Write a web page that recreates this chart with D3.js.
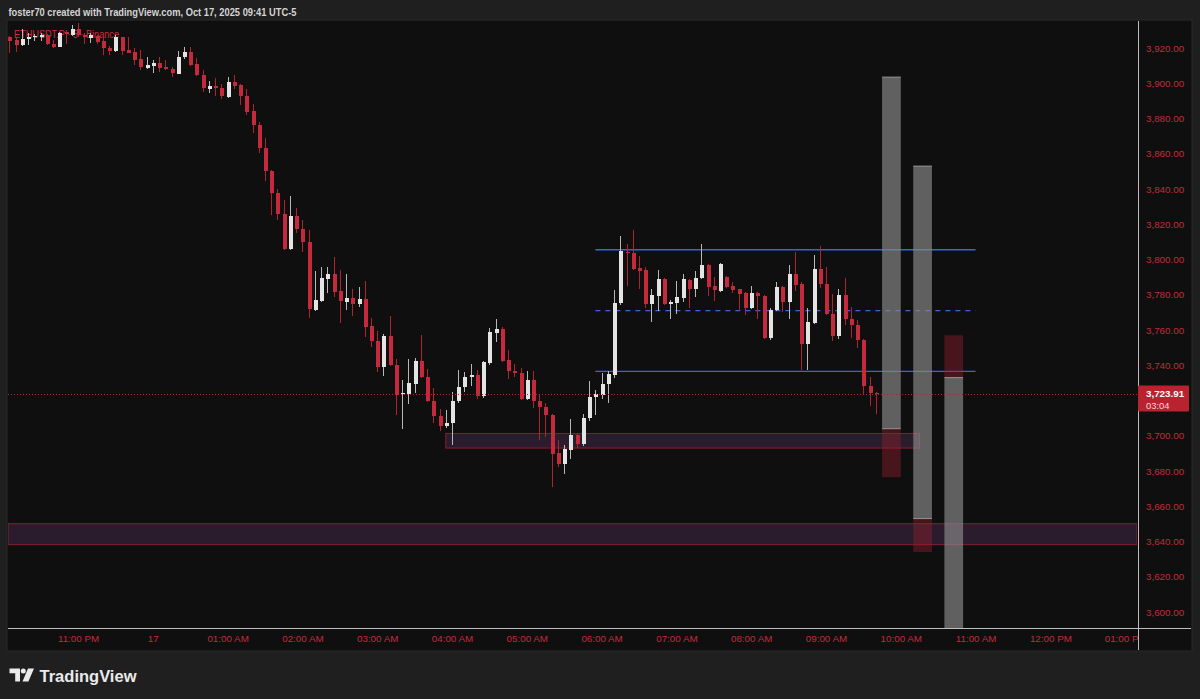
<!DOCTYPE html>
<html><head><meta charset="utf-8">
<script src="https://cdn.jsdelivr.net/npm/d3@7"></script>
<style>
html,body{margin:0;padding:0;background:#1f1f1f;overflow:hidden}
svg{display:block}
text{font-family:"Liberation Sans",Arial,sans-serif}
</style></head>
<body>
<svg id="c" width="1200" height="699"></svg>
<script>
// ---------------- DATA ----------------
const titleText = "foster70 created with TradingView.com, Oct 17, 2025 09:41 UTC-5";
const symbolText = "ETHUSDT.P \u00b7 5 \u00b7 Binance";
const firstBar = "2025-10-16T22:05:00Z";   // 5-minute bars (chart local time)
const barMinutes = 5;
const opens = [3926,3924.5,3921.5,3925,3926,3926.5,3927.5,3922.5,3920.5,3929,3927.5,3930.5,3927.5,3925.5,3927,3924,3920,3918.5,3926,3919,
3917.5,3913.5,3908.5,3910,3911.5,3909,3908,3905.5,3915,3918,3911,3904.5,3897,3898.5,3897.5,3892,3900.5,3899,3893,3884,
3876.5,3863.5,3850,3838,3826,3806,3824.5,3817.5,3810,3771.5,3776.5,3789,3792,3782,3776,3778,3774.5,3777.5,3762,3754,
3739,3756.5,3740,3723.5,3723.5,3729.5,3742.5,3733.5,3719.5,3711,3705.5,3707,3719.5,3727.5,3733.5,3734.5,3722.5,3741.5,3758.5,3760.5,
3743,3737,3735.5,3721,3731.5,3719.5,3716.5,3712,3690,3684,3692,3700.5,3695.5,3710,3722,3723,3729.5,3734.5,3775.5,3804.5,
3803.5,3795,3794,3774.5,3779.5,3789,3775,3775.5,3778,3788.5,3783.5,3789.5,3797,3785,3782,3790,3785,3783,3781,3772.5,
3781,3779.5,3755.5,3771.5,3784.5,3776,3792,3786,3752,3764,3794.5,3786,3769,3756.5,3780,3766.5,3763,3754.5,3728.5,3724.2];
const highs = [3927,3925.5,3931,3928.5,3928,3928.5,3928,3924.5,3929,3930,3933,3934,3928.5,3928.5,3927.5,3925.5,3921,3927.5,3926.5,3926,
3920,3919,3915,3913,3915,3913,3909.5,3918.5,3920.5,3920.5,3914.5,3907.5,3901.5,3903,3899.5,3903.5,3904.5,3899.5,3897,3888,
3878,3869,3851,3840,3834,3836,3829,3822.5,3817,3793.5,3795.5,3795.5,3801.5,3794,3791.5,3783.5,3784.5,3788,3767,3759.5,
3757.5,3768,3743.5,3731.5,3743.5,3744,3757,3738,3727,3715,3714.5,3725,3737.5,3736,3740.5,3737.5,3742.5,3761,3766,3761.5,
3748.5,3740.5,3738.5,3737,3736.5,3723.5,3718.5,3712.5,3697.5,3694.5,3709.5,3701.5,3712.5,3731,3726,3735.5,3736.5,3782.5,3813.5,3809,
3816.5,3802,3796,3783.5,3794,3789.5,3777,3788,3792,3789,3793.5,3809,3797.5,3790,3798,3790.5,3787.5,3783.5,3781.5,3785,
3781.5,3780,3772.5,3787.5,3785,3797,3804.5,3787,3772.5,3802.5,3807.5,3795.5,3780.5,3783,3789.5,3773,3765.5,3755,3733.5,3725];
const lows = [3917,3917.5,3921,3921.5,3924,3924,3921.5,3920,3920.5,3922.5,3927,3926.5,3922.5,3923,3922.5,3916,3916,3918,3916,3917,
3910.5,3907.5,3908,3906,3906.5,3907.5,3903.5,3905,3914,3910,3904,3895,3894.5,3892.5,3891,3891.5,3897,3887.5,3882,3871.5,
3860.5,3844.5,3825,3822.5,3805.5,3805.5,3815,3804.5,3767,3771,3776,3781,3778.5,3764,3771.5,3768,3773,3756,3750.5,3736,
3734,3739.5,3712,3704,3718,3724,3732.5,3719,3707,3702.5,3704.5,3694.5,3718.5,3725,3728,3721,3721.5,3740,3753,3742,
3732,3733.5,3720.5,3720.5,3716,3697.5,3699.5,3671,3682.5,3678.5,3687,3693,3694,3708.5,3712,3721,3718.5,3733,3774,3785,
3794,3783,3772.5,3764.5,3771,3774,3766.5,3769,3776,3772.5,3779,3789,3779.5,3776.5,3781.5,3784,3781,3770.5,3768.5,3772,
3766.5,3755,3754.5,3771,3770,3766.5,3782,3737.5,3737.5,3763.5,3784,3768.5,3753.5,3755,3763,3755.5,3750,3723.5,3717,3712.5];
const closes = [3924,3921.5,3925,3926.5,3927,3927.5,3922,3920.5,3928.5,3928,3930.5,3927.5,3926,3927.5,3923.5,3920,3918.5,3926.5,3918.5,3917,
3913,3909,3910.5,3911.5,3908.5,3908,3906,3915,3918,3910.5,3904.5,3897.5,3898.5,3897.5,3892.5,3900.5,3898.5,3893,3883.5,3876.5,
3863.5,3850,3837.5,3826,3806,3824.5,3817.5,3810,3772,3777,3789.5,3792,3781.5,3776.5,3778,3774.5,3777.5,3761.5,3754,3739,
3756.5,3740,3723,3724.5,3730,3742.5,3733.5,3719.5,3711,3705.5,3707.5,3719.5,3727.5,3733.5,3734.5,3722.5,3742,3759,3760.5,3742.5,
3736.5,3735.5,3721,3731.5,3719.5,3716.5,3712,3689.5,3684,3692.5,3700.5,3695.5,3710,3722,3723.5,3729.5,3735,3775.5,3805,3803.5,
3794.5,3793.5,3774.5,3780,3789,3774.5,3776,3778.5,3789,3783.5,3789.5,3797,3784.5,3782.5,3797.5,3784.5,3782.5,3780.5,3772.5,3781,
3779.5,3755.5,3771.5,3784.5,3776,3792,3785.5,3752,3764.5,3794.5,3786,3769,3756.5,3780,3766,3763,3754.5,3728.5,3724,3723.91];
const lastPrice = 3723.91;
const countdown = "03:04";
const priceTicks = [3600,3620,3640,3660,3680,3700,3720,3740,3760,3780,3800,3820,3840,3860,3880,3900,3920];
// horizontal range lines (price, start, end, dashed)
const rangeLines = [
  {p:3805.5, from:"2025-10-17T05:55:00Z", to:"2025-10-17T11:00:00Z", dash:false},
  {p:3771.0, from:"2025-10-17T05:55:00Z", to:"2025-10-17T11:00:00Z", dash:true},
  {p:3736.5, from:"2025-10-17T05:55:00Z", to:"2025-10-17T11:00:00Z", dash:false}];
// purple zones
const zones = [
  {top:3701.3, bottom:3693.0, from:"2025-10-17T03:55:00Z", to:"2025-10-17T10:15:00Z"},
  {top:3650.1, bottom:3638.2, from:null, to:null}];
// projection boxes: gray part and red part
const projections = [
  {from:"2025-10-17T09:45:00Z", to:"2025-10-17T10:00:00Z", grayTop:3903.5, grayBottom:3704, redTop:3704, redBottom:3676.5},
  {from:"2025-10-17T10:10:00Z", to:"2025-10-17T10:25:00Z", grayTop:3853, grayBottom:3653, redTop:3653, redBottom:3634},
  {from:"2025-10-17T10:35:00Z", to:"2025-10-17T10:50:00Z", grayTop:3733, grayBottom:3560, redTop:3757, redBottom:3733}];

// ---------------- LAYOUT ----------------
const L = 8, R = 1137, T = 21, B = 628, AXR = 1191, AXB = 650;
const RED = "#c42a3b", RED_W = "#b02431", WHITE = "#e4e4e4", WHITE_W = "#b8b8b8", AXTXT = "#c42b3c";

const svg = d3.select("#c");
svg.append("rect").attr("width",1200).attr("height",699).attr("fill","#1f1f1f");
svg.append("rect").attr("x",L-1).attr("y",T-1).attr("width",AXR-L+2).attr("height",AXB-T+2)
  .attr("fill","#0f0f0f").attr("stroke","#2b2b2b").attr("stroke-width",1);

svg.append("text").attr("x",8.5).attr("y",15.5).attr("fill","#d4d4d4")
  .attr("font-size",10.8).attr("font-weight",600).attr("textLength",288).attr("lengthAdjust","spacingAndGlyphs")
  .text(titleText);

const x = d3.scaleUtc()
  .domain([new Date("2025-10-16T22:03:50Z"), new Date("2025-10-17T13:09:30Z")])
  .range([L, R]);
const y = d3.scaleLinear().domain([3600,3920]).range([612,48]);

const defs = svg.append("defs");
defs.append("clipPath").attr("id","plotclip").append("rect")
  .attr("x",L).attr("y",T).attr("width",R-L).attr("height",B-T);
defs.append("clipPath").attr("id","timeclip").append("rect")
  .attr("x",L).attr("y",B).attr("width",R-L+1).attr("height",AXB-B);

const plot = svg.append("g").attr("clip-path","url(#plotclip)");

// symbol legend (drawn under the candles)
plot.append("text").attr("x",14).attr("y",37.5).attr("fill","#d02c3e")
  .attr("font-size",10.8).attr("textLength",105).attr("lengthAdjust","spacingAndGlyphs").text(symbolText);

const t0 = new Date(firstBar);
const bars = opens.map((o,i)=>({t:d3.utcMinute.offset(t0, i*barMinutes), o, h:highs[i], l:lows[i], c:closes[i]}));

// zones
zones.forEach(z=>{
  const x0 = z.from ? x(new Date(z.from)) : L;
  const x1 = z.to ? x(new Date(z.to)) : R;
  plot.append("rect").attr("x",x0).attr("y",y(z.top)).attr("width",x1-x0).attr("height",y(z.bottom)-y(z.top))
    .attr("fill","rgba(150,80,160,0.2)").attr("stroke","rgba(170,35,55,0.75)").attr("stroke-width",1);
});

// range lines
rangeLines.forEach(r=>{
  plot.append("line").attr("x1",x(new Date(r.from))).attr("x2",x(new Date(r.to)))
    .attr("y1",y(r.p)).attr("y2",y(r.p))
    .attr("stroke","#3468d6").attr("stroke-width",1.4)
    .attr("stroke-dasharray", r.dash ? "5,5" : null);
});

// candles
const cg = plot.append("g").attr("shape-rendering","crispEdges");
bars.forEach(b=>{
  const up = b.c >= b.o;
  const cx = Math.round(x(b.t));
  cg.append("line").attr("x1",cx+0.5).attr("x2",cx+0.5).attr("y1",y(b.h)).attr("y2",y(b.l))
    .attr("stroke", up ? WHITE_W : RED_W).attr("stroke-width",1);
  const top = y(Math.max(b.o,b.c)), bot = y(Math.min(b.o,b.c));
  cg.append("rect").attr("x",cx-1.5).attr("width",4).attr("y",top).attr("height",Math.max(1.2,bot-top))
    .attr("fill", up ? WHITE : RED);
});

// projection boxes
projections.forEach(p=>{
  const x0 = x(new Date(p.from)), x1 = x(new Date(p.to));
  plot.append("rect").attr("x",x0).attr("width",x1-x0).attr("y",y(p.grayTop)).attr("height",y(p.grayBottom)-y(p.grayTop))
    .attr("fill","rgba(135,135,135,0.68)");
  plot.append("rect").attr("x",x0).attr("width",x1-x0).attr("y",y(p.redTop)).attr("height",y(p.redBottom)-y(p.redTop))
    .attr("fill","rgba(150,32,45,0.42)");
  [p.grayTop,p.grayBottom].forEach(v=>{
    plot.append("line").attr("x1",x0).attr("x2",x1).attr("y1",y(v)).attr("y2",y(v))
      .attr("stroke","rgba(170,170,170,0.8)").attr("stroke-width",1);
  });
});

// last price dotted line
svg.append("line").attr("x1",L).attr("x2",R).attr("y1",Math.round(y(lastPrice))+0.5).attr("y2",Math.round(y(lastPrice))+0.5)
  .attr("stroke","#b0222f").attr("stroke-width",1).attr("stroke-dasharray","1,2");

// axes separators
svg.append("line").attr("x1",L).attr("x2",AXR).attr("y1",B+0.5).attr("y2",B+0.5).attr("stroke","#bdbdbd");
svg.append("line").attr("x1",R+1.5).attr("x2",R+1.5).attr("y1",T).attr("y2",AXB).attr("stroke","#bdbdbd");

// price axis (labels hidden where the last-price badge sits, as on the reference)
const ly = y(lastPrice);
const shownTicks = priceTicks.filter(v => Math.abs(y(v) - (ly+5)) > 20);
const yAxis = d3.axisRight(y).tickValues(shownTicks).tickFormat(d3.format(",.2f")).tickSize(0).tickPadding(0);
const ya = svg.append("g").attr("transform",`translate(${R+9},0)`).call(yAxis);
ya.select(".domain").remove();
ya.selectAll("text").attr("fill",AXTXT).attr("font-size",9.8).attr("font-family","Liberation Sans, Arial, sans-serif");

// last price label
svg.append("rect").attr("x",R+1).attr("y",ly-8).attr("width",51).attr("height",26).attr("rx",1).attr("fill","#b8232f");
svg.append("text").attr("x",R+9).attr("y",ly+3.2).attr("fill","#ffffff").attr("font-size",9.8).attr("font-weight",700)
  .text(d3.format(",.2f")(lastPrice));
svg.append("text").attr("x",R+9).attr("y",ly+15).attr("fill","#f2d6d9").attr("font-size",9.4).text(countdown);

// time axis
const tfmt = d=> d.getUTCHours()===0 ? d3.utcFormat("%-d")(d) : d3.utcFormat("%I:%M %p")(d);
const xAxis = d3.axisBottom(x).ticks(d3.utcHour.every(1)).tickFormat(tfmt).tickSize(0).tickPadding(0);
const xa = svg.append("g").attr("clip-path","url(#timeclip)").append("g").attr("transform",`translate(0,${B+7})`).call(xAxis);
xa.select(".domain").remove();
xa.selectAll("text").attr("fill",AXTXT).attr("font-size",9.8).attr("font-family","Liberation Sans, Arial, sans-serif");

// TradingView logo
const lg = svg.append("g").attr("fill","#eaeaea");
lg.append("path").attr("d","M9.5,668.5 H20 V681.5 H15.2 V673.3 H9.5 Z");
lg.append("circle").attr("cx",23.3).attr("cy",671).attr("r",2.5);
lg.append("path").attr("d","M28,668.5 H34 L28.4,681.5 H22.5 Z");
svg.append("text").attr("x",39.5).attr("y",681.5).attr("fill","#eaeaea").attr("font-size",17)
  .attr("font-weight",600).attr("textLength",97).attr("lengthAdjust","spacingAndGlyphs").text("TradingView");
</script>
</body></html>
